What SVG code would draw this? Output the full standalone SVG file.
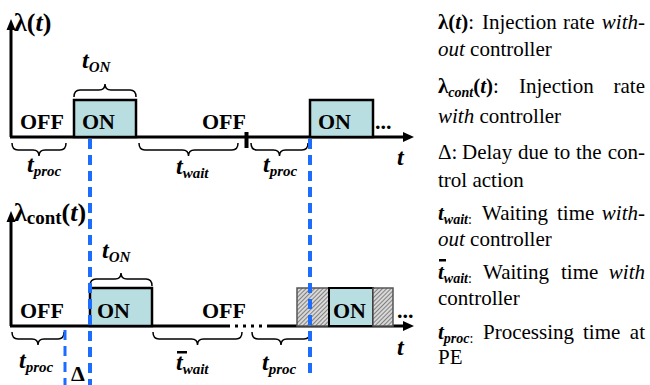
<svg xmlns="http://www.w3.org/2000/svg" width="650" height="385" viewBox="0 0 650 385">
<style>
.lbl{font-family:"Liberation Serif","Times New Roman",serif;font-weight:bold;font-size:22px;fill:#000}
.big{font-size:26px}
.tl{font-size:24px;font-style:italic}
.sub{font-size:15px}
.bi{font-style:italic;font-weight:bold}
.it{font-style:italic}
.b{font-weight:bold}
.s14{font-size:14px}
.leg{font-family:"Liberation Serif","Times New Roman",serif;font-size:21px;fill:#000}
.ax{stroke:#000;stroke-width:3;fill:none}
.br{stroke:#000;stroke-width:1.5;fill:none}
.on{fill:#b9dee1;stroke:#000;stroke-width:2.5}
.hat{fill:url(#hatch);stroke:#555;stroke-width:1.5}
.blue{stroke:#1a6dff;stroke-width:4;stroke-dasharray:10,6;fill:none}
</style>
<defs>
<pattern id="hatch" width="3" height="3" patternUnits="userSpaceOnUse" patternTransform="rotate(45)">
<rect width="3" height="3" fill="#d8d8d8"/>
<line x1="0" y1="0" x2="0" y2="3" stroke="#444" stroke-width="1.2"/>
</pattern>
</defs>

<g id="connectors">
<line class="ax" x1="11" y1="137" x2="11" y2="28"/>
<polygon points="11,19 6.5,30 15.5,30" fill="#000"/>
<line class="ax" x1="10" y1="137" x2="405" y2="137"/>
<polygon points="414,137 403,132 403,142" fill="#000"/>
<rect x="244.5" y="132" width="4" height="16" fill="#000"/>
<line class="ax" x1="11" y1="326" x2="11" y2="220"/>
<polygon points="11,211 6.5,222 15.5,222" fill="#000"/>
<line class="ax" x1="10" y1="326" x2="230" y2="326"/>
<line x1="235" y1="326" x2="265" y2="326" stroke="#000" stroke-width="3" stroke-dasharray="3,5"/>
<line class="ax" x1="267" y1="326" x2="405" y2="326"/>
<polygon points="414,326 403,321 403,331" fill="#000"/>
<path class="br" d="M74 97 Q74 90 80 90 L99 90 Q105 90 105 84 Q105 90 111 90 L130 90 Q136 90 136 97"/>
<path class="br" d="M12 143 Q12 150 18 150 L33 150 Q39 150 39 156 Q39 150 45 150 L60 150 Q66 150 66 143"/>
<path class="br" d="M139 143 Q139 150 145 150 L182.5 150 Q188.5 150 188.5 156 Q188.5 150 194.5 150 L232 150 Q238 150 238 143"/>
<path class="br" d="M251 143 Q251 150 257 150 L273.5 150 Q279.5 150 279.5 156 Q279.5 150 285.5 150 L302 150 Q308 150 308 143"/>
<path class="br" d="M90 286 Q90 279 96 279 L115 279 Q121 279 121 273 Q121 279 127 279 L146 279 Q152 279 152 286"/>
<path class="br" d="M12 332 Q12 339 18 339 L32 339 Q38 339 38 345 Q38 339 44 339 L58 339 Q64 339 64 332"/>
<path class="br" d="M153 332 Q153 339 159 339 L191.5 339 Q197.5 339 197.5 345 Q197.5 339 203.5 339 L236 339 Q242 339 242 332"/>
<path class="br" d="M252 332 Q252 339 258 339 L275 339 Q281 339 281 345 Q281 339 287 339 L304 339 Q310 339 310 332"/>
</g>

<g id="top-plot">
<g id="top-on1"><rect class="on" x="74" y="100" width="62" height="37"/><text class="lbl" x="82" y="129">ON</text></g>
<g id="top-on2"><rect class="on" x="310" y="100" width="63" height="37"/><text class="lbl" x="318" y="129">ON</text></g>
<text class="lbl big" x="14" y="31">λ(<tspan class="it">t</tspan>)</text>
<text class="lbl" x="20" y="129">OFF</text>
<text class="lbl" x="202" y="129">OFF</text>
<text class="lbl" x="375" y="129">...</text>
<text class="lbl tl" x="82" y="68">t<tspan class="sub" dy="4">ON</tspan></text>
<text class="lbl tl" x="27" y="172">t<tspan class="sub" dy="4">proc</tspan></text>
<text class="lbl tl" x="176" y="174">t<tspan class="sub" dy="4">wait</tspan></text>
<text class="lbl tl" x="263" y="172">t<tspan class="sub" dy="4">proc</tspan></text>
<text class="lbl tl" x="397" y="165">t</text>
</g>

<g id="bottom-plot">
<g id="bot-on1"><rect class="on" x="90" y="288" width="62" height="38"/><text class="lbl" x="97" y="318">ON</text></g>
<g id="bot-on2">
<rect class="hat" x="297" y="288" width="32" height="38"/>
<rect class="on" x="329" y="288" width="44" height="38" style="stroke-width:2"/>
<rect class="hat" x="373" y="288" width="20" height="38"/>
<text class="lbl" x="333" y="318">ON</text>
</g>
<text class="lbl big" x="14" y="221">λ<tspan style="font-size:19px" dy="3">cont</tspan><tspan dy="-3">(<tspan class="it">t</tspan>)</tspan></text>
<text class="lbl" x="20" y="318">OFF</text>
<text class="lbl" x="202" y="318">OFF</text>
<text class="lbl" x="397" y="318">...</text>
<text class="lbl tl" x="102" y="258">t<tspan class="sub" dy="4">ON</tspan></text>
<text class="lbl tl" x="19" y="368">t<tspan class="sub" dy="4">proc</tspan></text>
<text class="lbl tl" x="176" y="370">t<tspan class="sub" dy="4">wait</tspan></text>
<rect x="177" y="351" width="10" height="2.5" fill="#000"/>
<text class="lbl tl" x="262" y="370">t<tspan class="sub" dy="4">proc</tspan></text>
<text class="lbl" x="71" y="381" style="font-style:normal">Δ</text>
<text class="lbl tl" x="397" y="355">t</text>
</g>

<g id="markers">
<line class="blue" x1="90" y1="139" x2="90" y2="385"/>
<line class="blue" x1="310" y1="139" x2="310" y2="375"/>
<line class="blue" x1="65" y1="330" x2="65" y2="385" style="stroke-width:3"/>
</g>

<g id="legend" class="leg">
<text x="438" y="29"><tspan class="b">λ(</tspan><tspan class="bi">t</tspan><tspan class="b">)</tspan>:</text>
<text x="482" y="29">Injection</text>
<text x="563" y="29">rate</text>
<text x="645" y="29" text-anchor="end" class="it">with-</text>
<text x="438" y="56"><tspan class="it">out</tspan> controller</text>

<text x="438" y="93"><tspan class="b">λ</tspan><tspan class="bi s14" dy="4">cont</tspan><tspan dy="-4" class="b">(</tspan><tspan class="bi">t</tspan><tspan class="b">)</tspan>:</text>
<text x="519" y="93">Injection</text>
<text x="645" y="93" text-anchor="end">rate</text>
<text x="438" y="123"><tspan class="it">with</tspan> controller</text>

<text x="438" y="159">Δ:</text>
<text x="462" y="159">Delay</text>
<text x="518" y="159">due</text>
<text x="554" y="159">to</text>
<text x="576" y="159">the</text>
<text x="645" y="159" text-anchor="end">con-</text>
<text x="438" y="187">trol action</text>

<text x="438" y="220"><tspan class="bi">t</tspan><tspan class="bi s14" dy="4">wait</tspan><tspan class="s14">:</tspan></text>
<text x="482" y="220">Waiting</text>
<text x="557" y="220">time</text>
<text x="645" y="220" text-anchor="end" class="it">with-</text>
<text x="438" y="246"><tspan class="it">out</tspan> controller</text>

<rect x="439" y="259" width="7" height="2.5" fill="#000"/>
<text x="438" y="279"><tspan class="bi">t</tspan><tspan class="bi s14" dy="4">wait</tspan><tspan class="s14">:</tspan></text>
<text x="483" y="279">Waiting</text>
<text x="561" y="279">time</text>
<text x="645" y="279" text-anchor="end" class="it">with</text>
<text x="438" y="305">controller</text>

<text x="438" y="339"><tspan class="bi">t</tspan><tspan class="bi s14" dy="4">proc</tspan><tspan class="s14">:</tspan></text>
<text x="483" y="339">Processing</text>
<text x="583" y="339">time</text>
<text x="645" y="339" text-anchor="end">at</text>
<text x="438" y="364">PE</text>
</g>
</svg>
